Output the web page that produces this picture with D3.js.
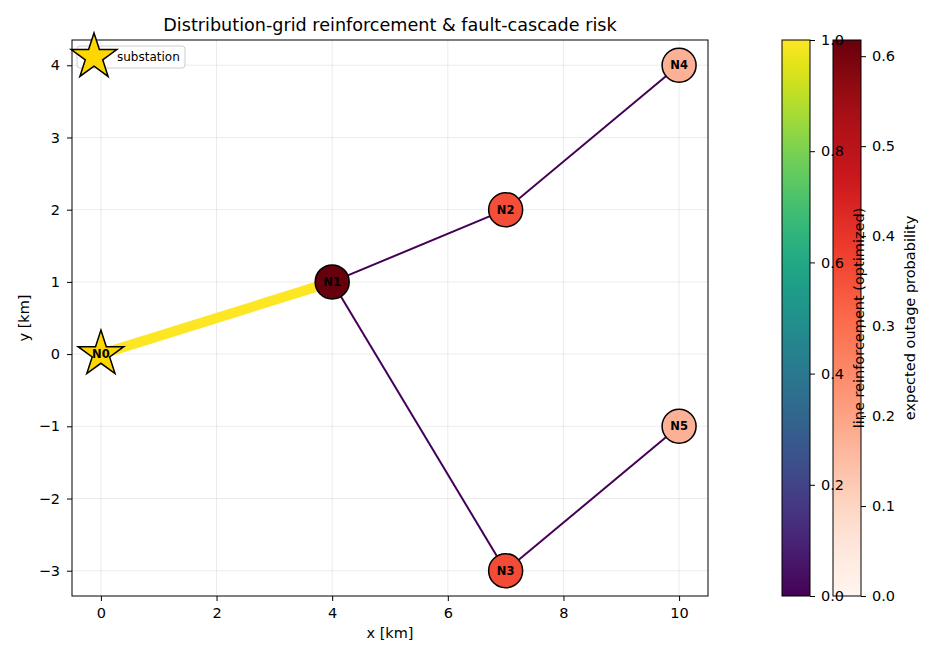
<!DOCTYPE html>
<html>
<head>
<meta charset="utf-8">
<script src="https://cdn.jsdelivr.net/npm/d3@7"></script>
<style>
  body { margin: 0; background: #fff; }
  text { font-family: "DejaVu Sans", sans-serif; }
</style>
</head>
<body>
<svg id="chart" width="935" height="660"></svg>
<script>
// Nodes of the grid
let nodeIds = ['N0', 'N1', 'N2', 'N3', 'N4', 'N5'];
let nodeX = [0, 4, 7, 7, 10, 10];
let nodeY = [0, 1, 2, -3, 4, -1];
let outageProb = [0, 0.618, 0.355, 0.36, 0.175, 0.175];

// Lines and optimized reinforcement
let edgeFrom = ['N0', 'N1', 'N2', 'N1', 'N3'];
let edgeTo = ['N1', 'N2', 'N4', 'N3', 'N5'];
let reinforcement = [1.0, 0.0, 0.0, 0.0, 0.0];

let xTicks = [0, 2, 4, 6, 8, 10];
let yTicks = [-3, -2, -1, 0, 1, 2, 3, 4];
let cbReinfTicks = [0.0, 0.2, 0.4, 0.6, 0.8, 1.0];
let cbOutageTicks = [0.0, 0.1, 0.2, 0.3, 0.4, 0.5, 0.6];

const svg = d3.select('#chart');
const margin = {left: 72, right: 708, top: 40, bottom: 596};
const fs = '14.5px';

let x = d3.scaleLinear().domain([-0.5, 10.5]).range([margin.left, margin.right]);
let y = d3.scaleLinear().domain([-3.35, 4.35]).range([margin.bottom, margin.top]);

// matplotlib 'Reds'
let redsStops = ['#fff5f0', '#fee0d2', '#fcbba1', '#fc9272', '#fb6a4a', '#ef3b2c', '#cb181d', '#a50f15', '#67000d'];
let redsScale = d3.scaleLinear().domain(d3.range(9).map(i => i / 8)).range(redsStops).interpolate(d3.interpolateRgb);
let outMax = d3.max(outageProb);
let outColor = v => redsScale(v / outMax);
let reinfColor = v => d3.interpolateViridis(v);

// Grid
let grid = svg.append('g');
xTicks.forEach(t => {
    grid.append('line').attr('x1', x(t)).attr('x2', x(t)).attr('y1', margin.top).attr('y2', margin.bottom)
        .style('stroke', '#b0b0b0').style('stroke-opacity', 0.3).style('stroke-width', 0.8);
});
yTicks.forEach(t => {
    grid.append('line').attr('y1', y(t)).attr('y2', y(t)).attr('x1', margin.left).attr('x2', margin.right)
        .style('stroke', '#b0b0b0').style('stroke-opacity', 0.3).style('stroke-width', 0.8);
});

// Edges
let pos = {};
nodeIds.forEach((id, i) => { pos[id] = [nodeX[i], nodeY[i]]; });
let edges = edgeFrom.map((f, i) => ({from: f, to: edgeTo[i], r: reinforcement[i]}));

svg.append('g').selectAll('line').data(edges).enter().append('line')
    .attr('x1', d => x(pos[d.from][0])).attr('y1', d => y(pos[d.from][1]))
    .attr('x2', d => x(pos[d.to][0])).attr('y2', d => y(pos[d.to][1]))
    .style('stroke', d => reinfColor(d.r))
    .style('stroke-width', d => 2 + 8 * d.r);

// Star path (matplotlib '*')
function starPath(R) {
    let pts = [];
    for (let k = 0; k < 10; k++) {
        let r = k % 2 === 0 ? R : R * 0.381966;
        let a = -Math.PI / 2 + k * Math.PI / 5;
        pts.push([r * Math.cos(a), r * Math.sin(a)]);
    }
    return 'M' + pts.map(p => p[0].toFixed(2) + ',' + p[1].toFixed(2)).join('L') + 'Z';
}

// Nodes
let nodes = nodeIds.map((id, i) => ({id: id, x: nodeX[i], y: nodeY[i], p: outageProb[i]}));
let nodeG = svg.append('g').selectAll('g').data(nodes).enter().append('g')
    .attr('transform', d => 'translate(' + x(d.x) + ',' + y(d.y) + ')');

nodeG.filter(d => d.id !== 'N0').append('circle')
    .attr('r', 17)
    .style('fill', d => outColor(d.p))
    .style('stroke', 'black')
    .style('stroke-width', 1.5);

nodeG.filter(d => d.id === 'N0').append('path')
    .attr('d', starPath(24))
    .style('fill', '#ffd700')
    .style('stroke', 'black')
    .style('stroke-width', 1.5);

nodeG.append('text')
    .attr('text-anchor', 'middle')
    .attr('dy', '0.36em')
    .style('font-size', '11.5px')
    .style('font-weight', 'bold')
    .text(d => d.id);

// Frame
svg.append('rect')
    .attr('x', margin.left).attr('y', margin.top)
    .attr('width', margin.right - margin.left).attr('height', margin.bottom - margin.top)
    .style('fill', 'none').style('stroke', 'black').style('stroke-width', 1);

function styleAxis(a) {
    a.select('.domain').remove();
    a.selectAll('text').style('font-size', fs).style('font-family', 'DejaVu Sans').attr('fill', 'black');
    a.selectAll('line').style('stroke', 'black');
}

// Axes
let xAxis = svg.append('g').attr('transform', 'translate(0,' + margin.bottom + ')')
    .call(d3.axisBottom(x).tickValues(xTicks).tickSize(5).tickPadding(7).tickFormat(d3.format('d')));
let yAxis = svg.append('g').attr('transform', 'translate(' + margin.left + ',0)')
    .call(d3.axisLeft(y).tickValues(yTicks).tickSize(5).tickPadding(7)
        .tickFormat(d => d < 0 ? '\u2212' + Math.abs(d) : d));
styleAxis(xAxis);
styleAxis(yAxis);

// Axis labels and title
svg.append('text').attr('x', (margin.left + margin.right) / 2).attr('y', 638)
    .attr('text-anchor', 'middle').style('font-size', fs).text('x [km]');
svg.append('text').attr('transform', 'translate(29,' + (margin.top + margin.bottom) / 2 + ') rotate(-90)')
    .attr('text-anchor', 'middle').style('font-size', fs).text('y [km]');
svg.append('text').attr('x', (margin.left + margin.right) / 2).attr('y', 31)
    .attr('text-anchor', 'middle').style('font-size', '17.6px')
    .text('Distribution-grid reinforcement & fault-cascade risk');

// Legend
let legend = svg.append('g');
legend.append('rect').attr('x', 77).attr('y', 46).attr('width', 108).attr('height', 22).attr('rx', 3)
    .style('fill', 'white').style('fill-opacity', 0.8).style('stroke', '#cccccc').style('stroke-width', 1);
legend.append('path').attr('d', starPath(24)).attr('transform', 'translate(94,57)')
    .style('fill', '#ffd700').style('stroke', 'black').style('stroke-width', 1.5);
legend.append('text').attr('x', 117).attr('y', 61).style('font-size', '12px').text('substation');

// Colorbars
let defs = svg.append('defs');
function gradient(id, fn) {
    let g = defs.append('linearGradient').attr('id', id)
        .attr('x1', 0).attr('x2', 0).attr('y1', 1).attr('y2', 0);
    d3.range(0, 1.0001, 0.05).forEach(t => {
        g.append('stop').attr('offset', t).attr('stop-color', fn(t));
    });
}
gradient('gradViridis', t => d3.interpolateViridis(t));
gradient('gradReds', t => redsScale(t));

let cbY1 = d3.scaleLinear().domain([0, 1]).range([margin.bottom, margin.top]);
let cbY2 = d3.scaleLinear().domain([0, outMax]).range([margin.bottom, margin.top]);

// outage colorbar (drawn first, reinforcement labels overlap it)
svg.append('rect').attr('x', 833).attr('y', margin.top).attr('width', 28).attr('height', margin.bottom - margin.top)
    .style('fill', 'url(#gradReds)').style('stroke', 'black').style('stroke-width', 1);
let cb2 = svg.append('g').attr('transform', 'translate(861,0)')
    .call(d3.axisRight(cbY2).tickValues(cbOutageTicks).tickSize(5).tickPadding(6).tickFormat(d3.format('.1f')));
styleAxis(cb2);
svg.append('text').attr('transform', 'translate(915,' + (margin.top + margin.bottom) / 2 + ') rotate(-90)')
    .attr('text-anchor', 'middle').style('font-size', fs).text('expected outage probability');

svg.append('rect').attr('x', 782).attr('y', margin.top).attr('width', 28).attr('height', margin.bottom - margin.top)
    .style('fill', 'url(#gradViridis)').style('stroke', 'black').style('stroke-width', 1);
let cb1 = svg.append('g').attr('transform', 'translate(810,0)')
    .call(d3.axisRight(cbY1).tickValues(cbReinfTicks).tickSize(5).tickPadding(6).tickFormat(d3.format('.1f')));
styleAxis(cb1);
svg.append('text').attr('transform', 'translate(864,' + (margin.top + margin.bottom) / 2 + ') rotate(-90)')
    .attr('text-anchor', 'middle').style('font-size', fs).text('line reinforcement (optimized)');
</script>
</body>
</html>
